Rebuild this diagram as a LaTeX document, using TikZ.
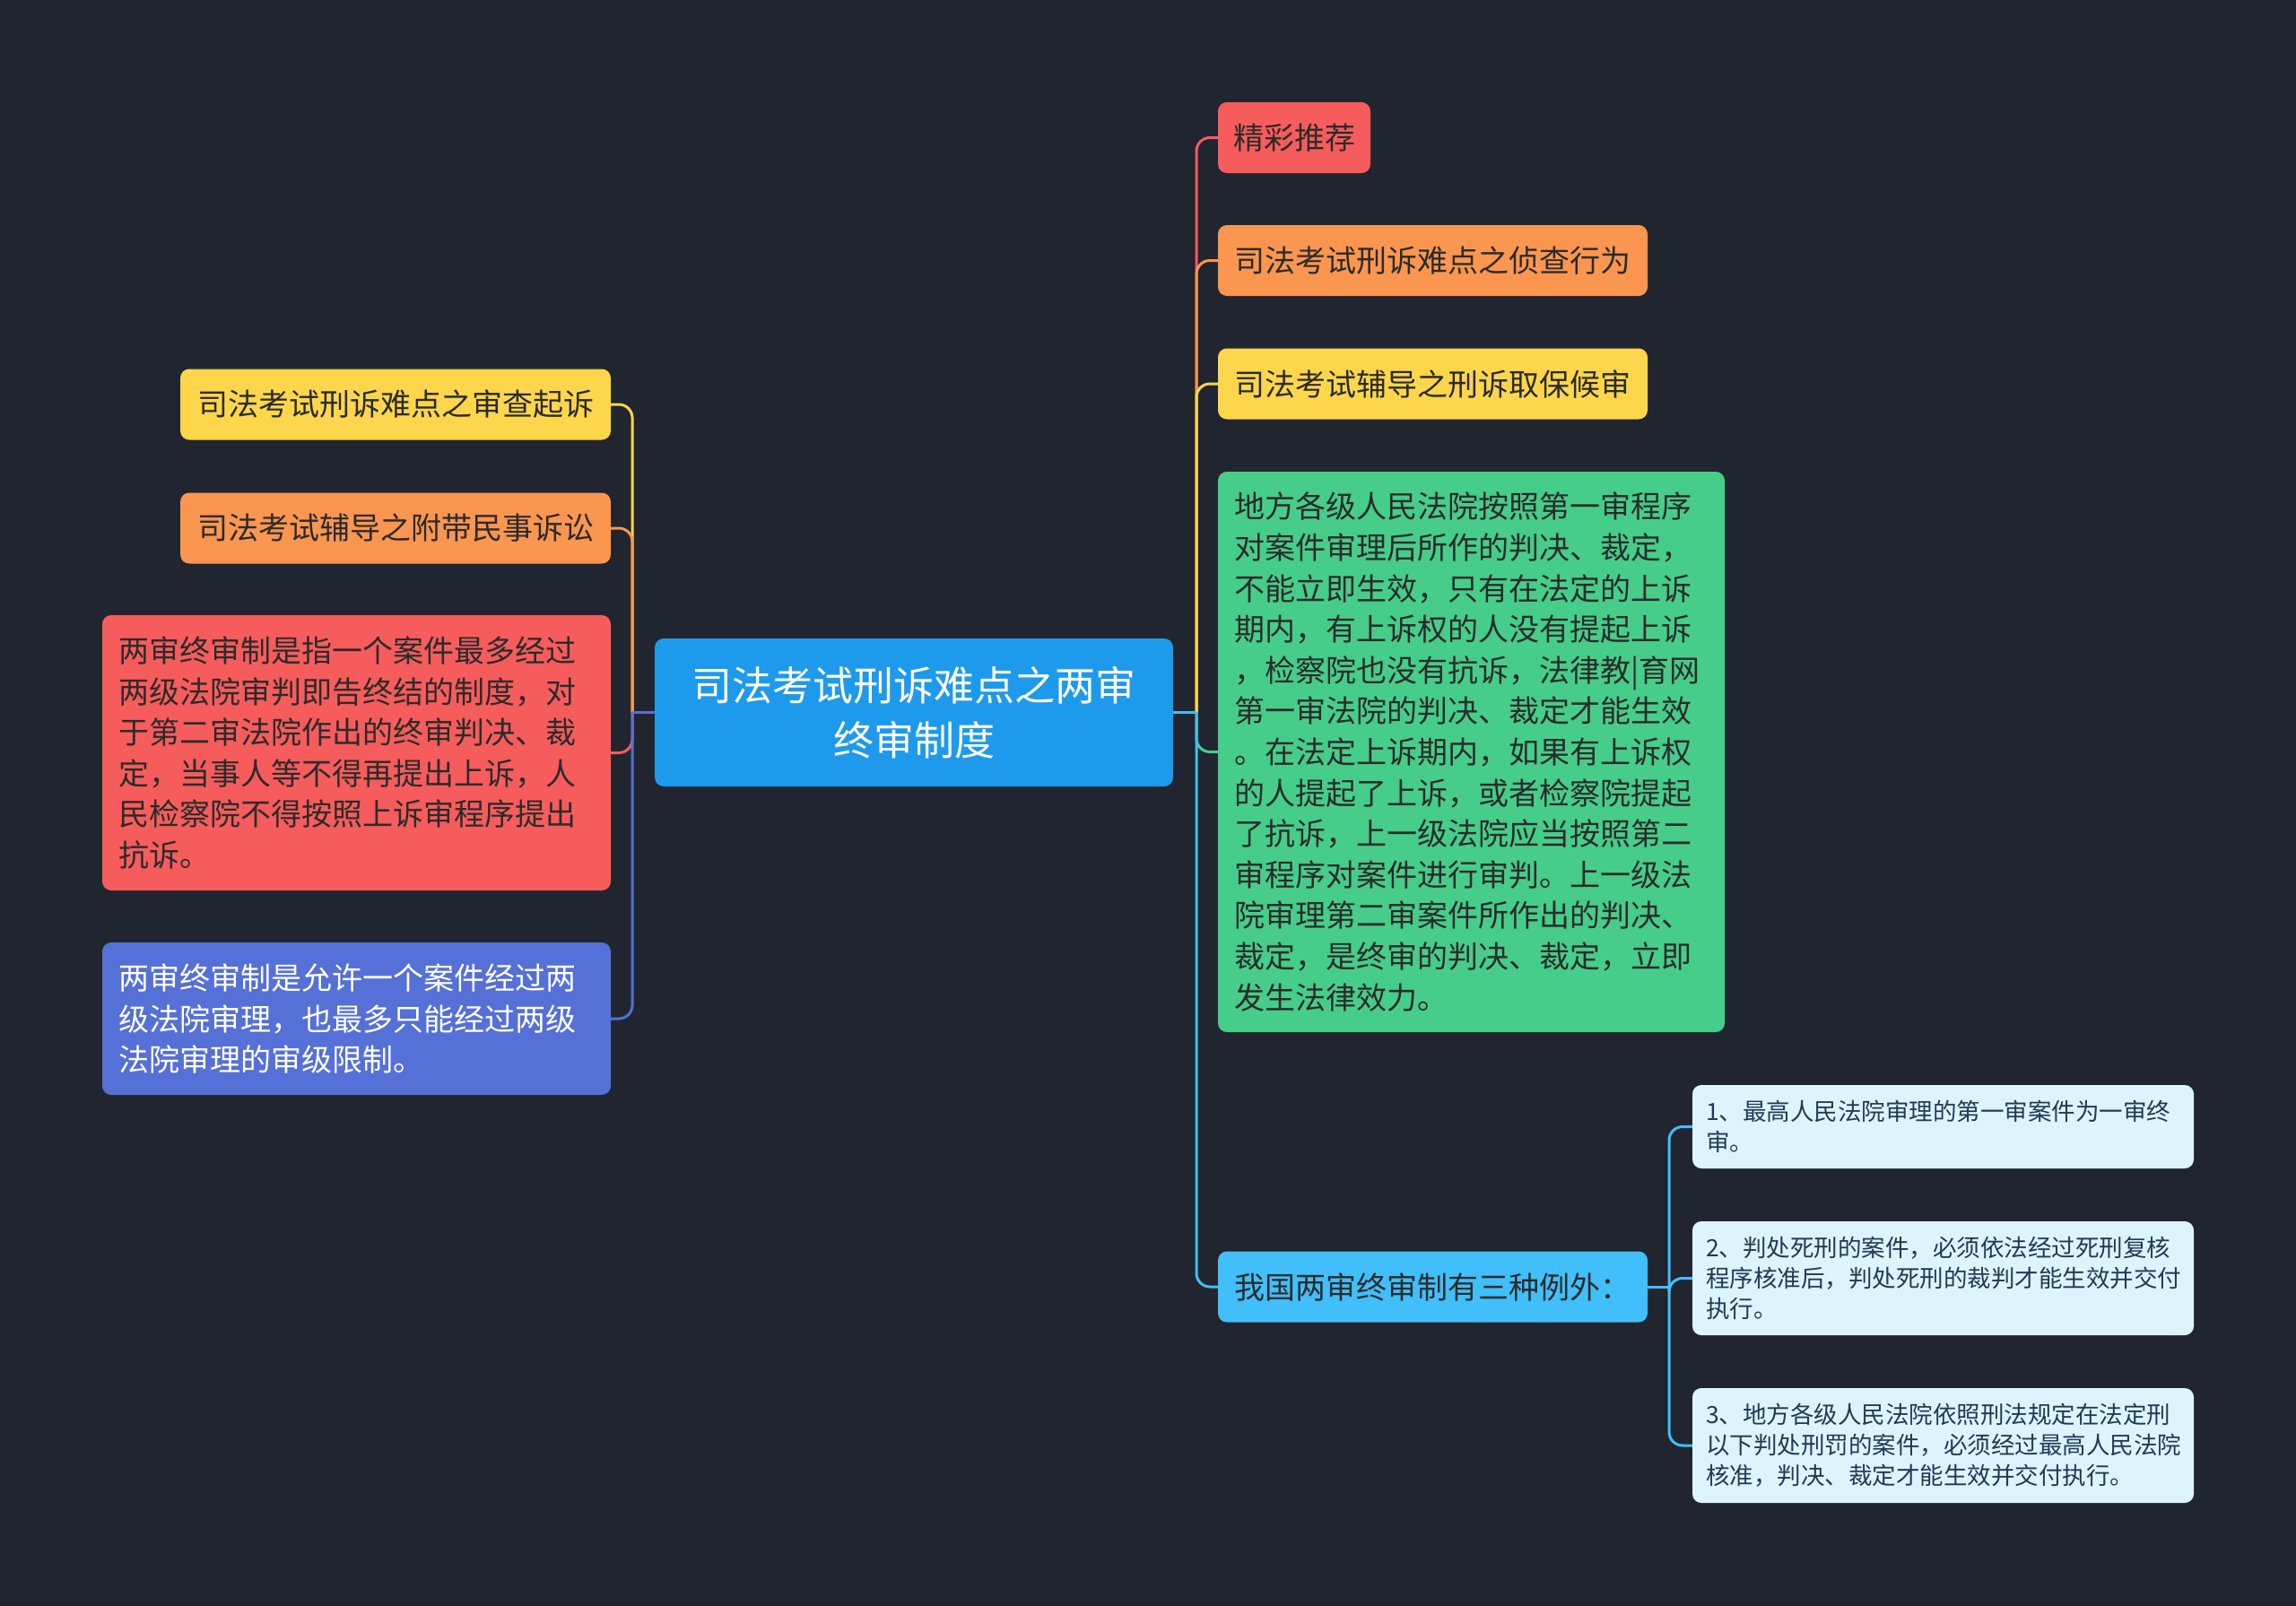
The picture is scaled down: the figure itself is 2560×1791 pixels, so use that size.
\documentclass[tikz,border=0pt]{standalone}
\usepackage{fontspec}
\setmainfont{Noto Sans CJK SC}
\definecolor{bg}{HTML}{21252F}
\definecolor{croot}{HTML}{1E9AEC}
\definecolor{cred}{HTML}{F65C5C}
\definecolor{corange}{HTML}{FA964F}
\definecolor{cyellow}{HTML}{FDD64B}
\definecolor{cgreen}{HTML}{46CD8A}
\definecolor{cpurple}{HTML}{5570D6}
\definecolor{clblue}{HTML}{40BFFA}
\definecolor{csub}{HTML}{DDF4FC}
\definecolor{tdark}{HTML}{2B2B2B}
\definecolor{tsub}{HTML}{1F3A56}
\tikzset{
  box/.style={rounded corners=10pt, inner sep=0pt, anchor=center},
  mid/.style={box, font=\fontsize{34}{45.6}\selectfont, text=tdark, align=center, minimum height=79pt},
  para/.style={box, font=\fontsize{34}{45.6}\selectfont, align=left},
  subbox/.style={box, fill=csub, text=tsub, font=\fontsize{26.5}{34}\selectfont, align=left, text width=529pt, minimum width=559pt},
  conn/.style={line width=3pt, rounded corners=15pt}
}
\begin{document}
\begin{tikzpicture}[x=1pt,y=-1pt]
\fill[bg] (0,0) rectangle (2560,1791);
\useasboundingbox (0,0) rectangle (2560,1791);

% root
\node[box, fill=croot, text=white, font=\fontsize{45}{61}\selectfont, align=center, minimum width=578pt, minimum height=165pt] (root) at (1019,794.5) {司法考试刑诉难点之两审\\终审制度};

% left nodes
\node[mid, fill=cyellow, minimum width=480pt] (l1) at (441,451) {司法考试刑诉难点之审查起诉};
\node[mid, fill=corange, minimum width=480pt] (l2) at (441,589) {司法考试辅导之附带民事诉讼};
\node[para, fill=cred, text=tdark, text width=531pt, minimum width=567pt, minimum height=307pt] (l3) at (397.5,839.5) {两审终审制是指一个案件最多经过\\两级法院审判即告终结的制度，对\\于第二审法院作出的终审判决、裁\\定，当事人等不得再提出上诉，人\\民检察院不得按照上诉审程序提出\\抗诉。};
\node[para, fill=cpurple, text=white, text width=531pt, minimum width=567pt, minimum height=170pt] (l4) at (397.5,1136) {两审终审制是允许一个案件经过两\\级法院审理，也最多只能经过两级\\法院审理的审级限制。};

% right nodes
\node[mid, fill=cred, minimum width=170pt] (r1) at (1443,153.5) {精彩推荐};
\node[mid, fill=corange, minimum width=479pt] (r2) at (1597.5,290.5) {司法考试刑诉难点之侦查行为};
\node[mid, fill=cyellow, minimum width=479pt] (r3) at (1597.5,428) {司法考试辅导之刑诉取保候审};
\node[para, fill=cgreen, text=tdark, text width=529pt, minimum width=565pt, minimum height=625pt] (r4) at (1640.5,838.5) {地方各级人民法院按照第一审程序\\对案件审理后所作的判决、裁定，\\不能立即生效，只有在法定的上诉\\期内，有上诉权的人没有提起上诉\\，检察院也没有抗诉，法律教|育网\\第一审法院的判决、裁定才能生效\\。在法定上诉期内，如果有上诉权\\的人提起了上诉，或者检察院提起\\了抗诉，上一级法院应当按照第二\\审程序对案件进行审判。上一级法\\院审理第二审案件所作出的判决、\\裁定，是终审的判决、裁定，立即\\发生法律效力。};
\node[mid, fill=clblue, minimum width=479pt] (r5) at (1597.5,1435) {我国两审终审制有三种例外：};

% sub nodes
\node[subbox, minimum height=93pt] (s1) at (2166.5,1256.5) {1、最高人民法院审理的第一审案件为一审终\\审。};
\node[subbox, minimum height=127pt] (s2) at (2166.5,1425.5) {2、判处死刑的案件，必须依法经过死刑复核\\程序核准后，判处死刑的裁判才能生效并交付\\执行。};
\node[subbox, minimum height=128pt] (s3) at (2166.5,1612) {3、地方各级人民法院依照刑法规定在法定刑\\以下判处刑罚的案件，必须经过最高人民法院\\核准，判决、裁定才能生效并交付执行。};

% junctions
\coordinate (lj) at (705,794.5);
\coordinate (rj) at (1334,794.5);
\coordinate (sj) at (1861,1435);

% left connectors
\draw[conn, cyellow] (lj) |- (l1.east);
\draw[conn, corange] (lj) |- (l2.east);
\draw[conn, cred] (lj) |- (l3.east);
\draw[conn, cpurple] (lj) |- (l4.east);
\draw[conn, cpurple] (root.west) -- (lj);

% right connectors
\draw[conn, cred] (rj) |- (r1.west);
\draw[conn, corange] (rj) |- (r2.west);
\draw[conn, cyellow] (rj) |- (r3.west);
\draw[conn, cgreen] (rj) |- (r4.west);
\draw[conn, clblue] (rj) |- (r5.west);
\draw[conn, clblue] (root.east) -- (rj);

% sub connectors
\draw[conn, clblue] (sj) |- (s1.west);
\draw[conn, clblue] (sj) |- (s2.west);
\draw[conn, clblue] (sj) |- (s3.west);
\draw[conn, clblue] (r5.east) -- (sj);
\end{tikzpicture}
\end{document}
